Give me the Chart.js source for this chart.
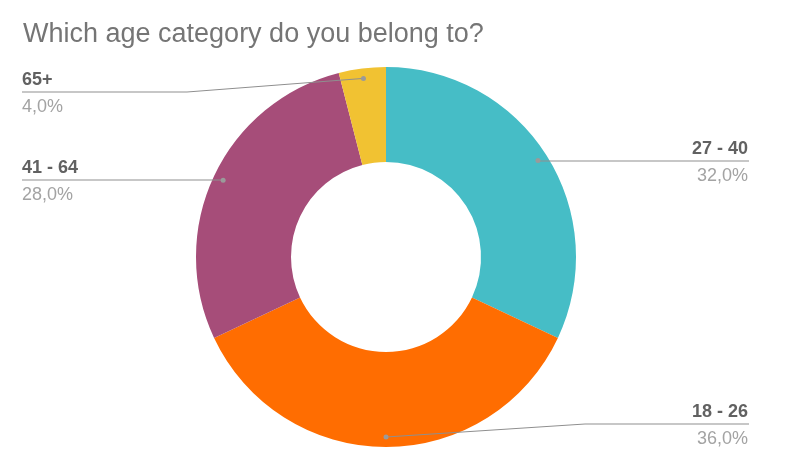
<!DOCTYPE html>
<html>
<head>
<meta charset="utf-8">
<script src="https://cdn.jsdelivr.net/npm/chart.js@4/dist/chart.umd.min.js"></script>
<style>
  html, body { margin: 0; padding: 0; background: #ffffff; }
  #wrap { width: 800px; height: 473px; position: relative; }
</style>
</head>
<body>
<div id="wrap"><canvas id="c" width="800" height="473"></canvas></div>
<script>
// ---- data ----
const title = 'Which age category do you belong to?';
const categories = ['27 - 40', '18 - 26', '41 - 64', '65+'];
const values = [32, 36, 28, 4];
const colors = ['#46bdc6', '#ff6d01', '#a64d79', '#f1c232'];

// ---- label layout (positions only) ----
const labelSide = ['right', 'right', 'left', 'left'];
const labelLineY = [161, 424, 180, 92];
const labelElbowX = [null, 585, null, 187];

const total = values.reduce((a, b) => a + b, 0);
const fmtPct = v => (v / total * 100).toFixed(1).replace('.', ',') + '%';

const labelPlugin = {
  id: 'gLabels',
  afterDraw(chart) {
    const ctx = chart.ctx;
    ctx.save();
    // title
    ctx.font = '27px "Liberation Sans", Arial, sans-serif';
    ctx.fillStyle = '#757575';
    ctx.textAlign = 'left';
    ctx.textBaseline = 'alphabetic';
    ctx.fillText(title, 23, 42);

    const meta = chart.getDatasetMeta(0);
    meta.data.forEach((arc, i) => {
      const p = arc.getProps(['x', 'y', 'startAngle', 'endAngle', 'outerRadius'], true);
      const mid = (p.startAngle + p.endAngle) / 2;
      const r = p.outerRadius - 10;
      const dx = p.x + Math.cos(mid) * r;
      const dy = p.y + Math.sin(mid) * r;
      const ly = labelLineY[i];
      const right = labelSide[i] === 'right';
      const endX = right ? 749 : 22;
      const ex = labelElbowX[i];

      ctx.strokeStyle = '#8f8f8f';
      ctx.lineWidth = 1;
      ctx.beginPath();
      ctx.moveTo(dx, dy);
      if (ex !== null) ctx.lineTo(ex, ly);
      else ctx.lineTo(dx, ly);
      ctx.lineTo(endX, ly);
      ctx.stroke();

      ctx.fillStyle = '#9a9a9a';
      ctx.beginPath();
      ctx.arc(dx, dy, 2.5, 0, Math.PI * 2);
      ctx.fill();

      ctx.textAlign = right ? 'right' : 'left';
      const tx = right ? 748 : 22;
      ctx.font = 'bold 18px "Liberation Sans", Arial, sans-serif';
      ctx.fillStyle = '#616161';
      ctx.fillText(categories[i], tx, ly - 7.5);
      ctx.font = '18px "Liberation Sans", Arial, sans-serif';
      ctx.fillStyle = '#a3a3a3';
      ctx.fillText(fmtPct(values[i]), tx, ly + 19.5);
    });
    ctx.restore();
  }
};

new Chart(document.getElementById('c'), {
  type: 'doughnut',
  data: {
    labels: categories,
    datasets: [{
      data: values,
      backgroundColor: colors,
      borderWidth: 0,
      hoverOffset: 0
    }]
  },
  options: {
    responsive: false,
    animation: false,
    cutout: '50%',
    layout: { padding: { left: 196, right: 224, top: 67, bottom: 26 } },
    plugins: {
      legend: { display: false },
      tooltip: { enabled: false },
      title: { display: false }
    }
  },
  plugins: [labelPlugin]
});
</script>
</body>
</html>
